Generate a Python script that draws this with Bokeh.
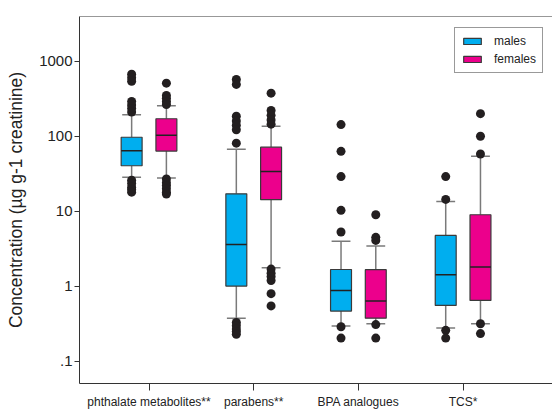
import numpy as np
from bokeh.plotting import figure
from bokeh.models import ColumnDataSource, Range1d, FixedTicker, Legend, LegendItem, Span
from bokeh.embed import file_html
from bokeh.resources import INLINE

# ---------------- data ----------------
groups = ["phthalate metabolites**", "parabens**", "BPA analogues", "TCS*"]

males_lo  = [28.5, 0.378, 0.296, 0.279]
males_q1  = [40.5, 1.01, 0.469, 0.558]
males_med = [64.0, 3.62, 0.885, 1.43]
males_q3  = [97.0, 17.1, 1.68, 4.78]
males_hi  = [193.0, 67.3, 4.01, 13.5]

females_lo  = [27.7, 1.77, 0.318, 0.318]
females_q1  = [63.4, 14.3, 0.378, 0.65]
females_med = [103.0, 34.0, 0.64, 1.81]
females_q3  = [171.0, 71.6, 1.67, 9.0]
females_hi  = [255.0, 136.0, 3.44, 54.0]

males_out = [
    [670, 600, 540, 290, 260, 235, 210, 26, 23.5, 21, 19.5, 18],
    [570, 490, 185, 160, 140, 122, 81, 0.33, 0.30, 0.27, 0.25, 0.23],
    [143, 63, 29, 10.3, 5.3, 0.29, 0.205],
    [29, 14.4, 0.26, 0.205],
]
females_out = [
    [510, 350, 320, 290, 265, 27, 24, 22, 20, 18, 17],
    [375, 220, 190, 165, 145, 1.7, 1.5, 1.35, 1.2, 0.8, 0.55],
    [9.0, 4.5, 4.1, 0.31, 0.205],
    [200, 100, 58, 0.318, 0.235],
]

y_ticks = [0.1, 1, 10, 100, 1000]
y_tick_labels = [".1", "1", "10", "100", "1000"]

series_names = ["males", "females"]
series_colors = ["#00AEEF", "#EC008C"]

# ---------------- figure ----------------
FONT = "Liberation Sans"
y_start, y_end = 0.0509, 3937
p = figure(width=552, height=414, output_backend="svg", toolbar_location=None,
           x_range=Range1d(0.336, 4.854), y_range=Range1d(y_start, y_end),
           y_axis_type="log",
           min_border_left=79, min_border_right=0, min_border_top=16, min_border_bottom=31)
p.outline_line_color = None
p.xgrid.visible = False
p.ygrid.visible = False
p.background_fill_color = "white"
p.border_fill_color = "white"

gx = np.arange(1, len(groups) + 1)
offset = 0.166
box_w = 0.2
cap_w = 0.18
whisk_col = "#7a7a7a"

def draw(lo, q1, med, q3, hi, out, dx, color):
    x = gx + dx
    src = ColumnDataSource(dict(x=x, lo=lo, q1=q1, med=med, q3=q3, hi=hi,
                                x0=x - box_w / 2, x1=x + box_w / 2,
                                c0=x - cap_w / 2, c1=x + cap_w / 2))
    p.segment("x", "q3", "x", "hi", source=src, line_color=whisk_col, line_width=1.5)
    p.segment("x", "lo", "x", "q1", source=src, line_color=whisk_col, line_width=1.5)
    p.segment("c0", "hi", "c1", "hi", source=src, line_color=whisk_col, line_width=1.5)
    p.segment("c0", "lo", "c1", "lo", source=src, line_color=whisk_col, line_width=1.5)
    r = p.vbar(x="x", width=box_w, bottom="q1", top="q3", source=src,
               fill_color=color, line_color="#3a3a3a", line_width=1.2)
    p.segment("x0", "med", "x1", "med", source=src, line_color="#222222", line_width=1.5)
    ox = np.concatenate([[x[i]] * len(o) for i, o in enumerate(out)])
    oy = np.concatenate([np.asarray(o, dtype=float) for o in out])
    p.scatter(ox, oy, size=9, fill_color="#231f20", line_color=None)
    return r

r_m = draw(males_lo, males_q1, males_med, males_q3, males_hi, males_out, -offset, series_colors[0])
r_f = draw(females_lo, females_q1, females_med, females_q3, females_hi, females_out, offset, series_colors[1])

# ---------------- axes ----------------
ax_col = "#333333"
txt_col = "#222222"

p.xaxis.ticker = FixedTicker(ticks=[int(v) for v in gx])
p.xaxis.major_label_overrides = {int(v): g for v, g in zip(gx, groups)}
p.xaxis.major_tick_in = 0
p.xaxis.major_tick_out = 7
p.xaxis.minor_tick_line_color = None
p.xaxis.major_label_standoff = 4
p.xaxis.major_label_text_font = FONT
p.xaxis.major_label_text_font_size = "12px"
p.xaxis.major_label_text_color = txt_col
p.xaxis.axis_line_color = ax_col
p.xaxis.major_tick_line_color = ax_col

p.yaxis.ticker = FixedTicker(ticks=y_ticks)
p.yaxis.major_label_overrides = dict(zip(y_ticks, y_tick_labels))
p.yaxis.major_tick_in = 0
p.yaxis.major_tick_out = 5
p.yaxis.minor_tick_line_color = None
p.yaxis.major_label_standoff = 2
p.yaxis.major_label_text_font = FONT
p.yaxis.major_label_text_font_size = "15px"
p.yaxis.major_label_text_color = txt_col
p.yaxis.axis_line_color = ax_col
p.yaxis.major_tick_line_color = ax_col
p.yaxis.axis_label = "Concentration (µg g-1 creatinine)"
p.yaxis.axis_label_text_font = FONT
p.yaxis.axis_label_text_font_size = "17.5px"
p.yaxis.axis_label_text_font_style = "normal"
p.yaxis.axis_label_text_color = txt_col
p.yaxis.axis_label_standoff = 10

# top frame line (no right border in the reference)
p.add_layout(Span(location=y_end, dimension="width", line_color=ax_col, line_width=1))

# ---------------- legend ----------------
legend = Legend(items=[LegendItem(label=series_names[0], renderers=[r_m]),
                       LegendItem(label=series_names[1], renderers=[r_f])],
                location=(375, 310), orientation="vertical",
                glyph_width=22, glyph_height=8, label_height=14, spacing=4,
                padding=6, label_standoff=11, margin=0,
                label_text_font=FONT, label_text_font_size="12px", label_text_color=txt_col,
                border_line_color="#333333", border_line_width=1,
                background_fill_color="white", background_fill_alpha=1.0)
p.add_layout(legend, "center")

open("out.html", "w").write(file_html(p, INLINE))
